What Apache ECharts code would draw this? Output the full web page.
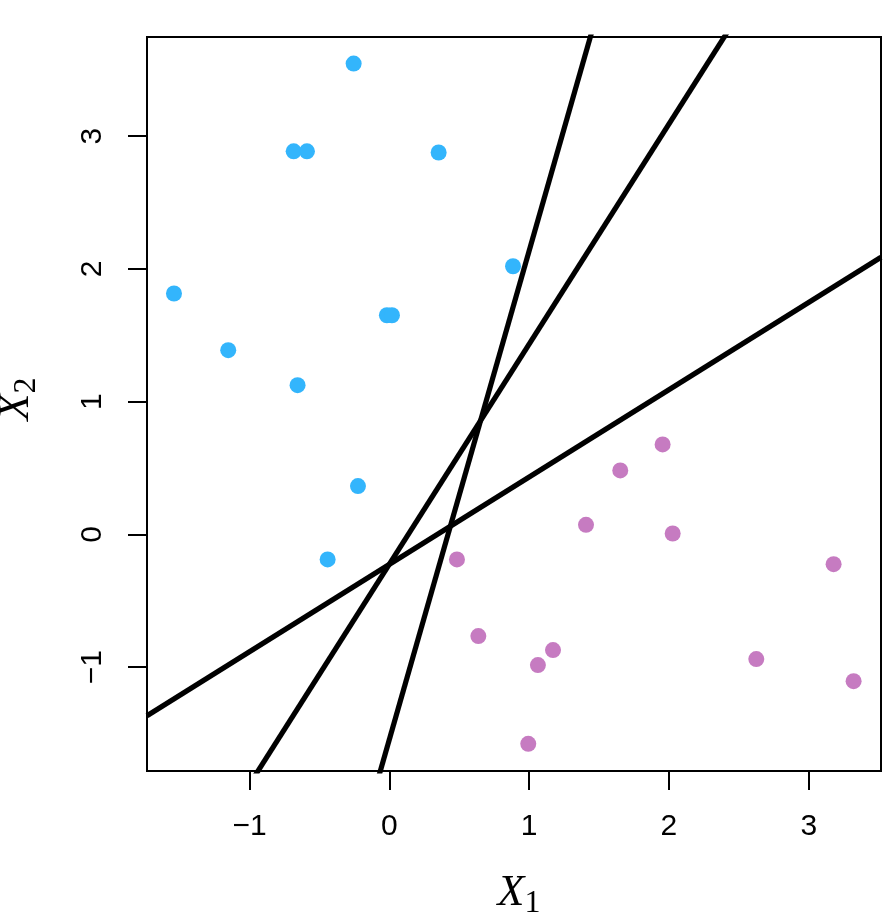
<!DOCTYPE html>
<html>
<head>
<meta charset="utf-8">
<script src="https://cdn.jsdelivr.net/npm/echarts@6/dist/echarts.min.js"></script>
<style>
  html, body { margin: 0; padding: 0; background: #fff; }
  #main { width: 895px; height: 921px; }
</style>
</head>
<body>
<div id="main"></div>
<script>
// points
var blueX = [-0.255, -0.684, -0.589, 0.353, 0.885, -1.540, -0.017, 0.019, -1.152, -0.656, -0.224, -0.441];
var blueY = [3.547, 2.886, 2.886, 2.877, 2.020, 1.815, 1.651, 1.651, 1.388, 1.124, 0.364, -0.188];
var purpleX = [1.955, 1.652, 1.407, 2.027, 0.484, 3.178, 0.637, 1.171, 1.063, 2.625, 3.321, 0.994];
var purpleY = [0.678, 0.482, 0.072, 0.007, -0.188, -0.224, -0.766, -0.871, -0.984, -0.939, -1.105, -1.577];

// three separating lines, y = a*x + b
var slopes = [3.681, 1.658, 0.658];
var intercepts = [-1.546, -0.225, -0.226];

var xTicks = [-1, 0, 1, 2, 3];
var yTicks = [-1, 0, 1, 2, 3];

var xMin = -1.733, xMax = 3.517;
var yMin = -1.782, yMax = 3.747;

function zip(xs, ys) {
    var out = [];
    for (var i = 0; i < xs.length; i++) out.push([xs[i], ys[i]]);
    return out;
}

function fmt(v) {
    return String(v).replace('-', '\u2212');
}

var series = [];
series.push({
    type: 'scatter',
    data: zip(blueX, blueY),
    symbolSize: 16,
    itemStyle: { color: '#33B5FC', opacity: 1 },
    z: 2
});
series.push({
    type: 'scatter',
    data: zip(purpleX, purpleY),
    symbolSize: 16,
    itemStyle: { color: '#C67BC1', opacity: 1 },
    z: 2
});
for (var k = 0; k < slopes.length; k++) {
    series.push({
        type: 'line',
        data: [[xMin, slopes[k] * xMin + intercepts[k]], [xMax, slopes[k] * xMax + intercepts[k]]],
        showSymbol: false,
        clip: true,
        lineStyle: { color: '#000', width: 5.2 },
        z: 3
    });
}

var labelFont = { fontFamily: 'Liberation Sans', fontSize: 30, color: '#000' };

// X with a subscript, as in the axis titles
var titleRich = {
    x: { fontFamily: 'Liberation Serif', fontStyle: 'italic', fontSize: 44, color: '#000', verticalAlign: 'bottom', padding: [0, 0, 5, 10] },
    s: { fontFamily: 'Liberation Serif', fontSize: 32, color: '#000', verticalAlign: 'bottom' }
};

var chart = echarts.init(document.getElementById('main'));
chart.setOption({
    animation: false,
    grid: {
        left: 147, top: 37, width: 734, height: 734,
        show: true, borderColor: '#000', borderWidth: 2,
        outerBoundsMode: 'none'
    },
    xAxis: {
        type: 'value',
        min: xMin, max: xMax,
        splitLine: { show: false },
        axisLine: { show: true, onZero: false, lineStyle: { color: '#000', width: 2 } },
        axisTick: { show: true, customValues: xTicks, length: 19, lineStyle: { color: '#000', width: 2 } },
        axisLabel: Object.assign({ customValues: xTicks, margin: 41, formatter: fmt }, labelFont),
        name: '{x|X}{s|1}',
        nameLocation: 'middle',
        nameGap: 100,
        nameTextStyle: { rich: titleRich }
    },
    yAxis: {
        type: 'value',
        min: yMin, max: yMax,
        splitLine: { show: false },
        axisLine: { show: true, onZero: false, lineStyle: { color: '#000', width: 2 } },
        axisTick: { show: true, customValues: yTicks, length: 19, lineStyle: { color: '#000', width: 2 } },
        axisLabel: Object.assign({ customValues: yTicks, margin: 39, rotate: 90, formatter: fmt }, labelFont),
        name: '{x|X}{s|2}',
        nameLocation: 'middle',
        nameRotate: 90,
        nameGap: 104,
        nameTextStyle: { rich: titleRich }
    },
    series: series
});
</script>
</body>
</html>
